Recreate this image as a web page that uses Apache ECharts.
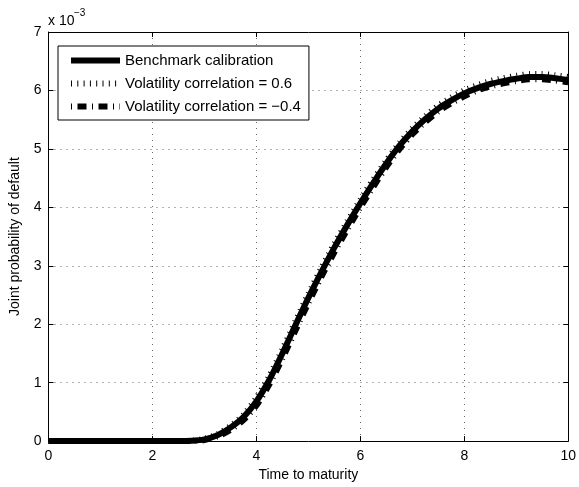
<!DOCTYPE html>
<html>
<head>
<meta charset="utf-8">
<script src="https://cdn.jsdelivr.net/npm/echarts@6/dist/echarts.min.js"></script>
<style>
html,body{margin:0;padding:0;background:#fff;}
#c{width:579px;height:487px;}
</style>
</head>
<body>
<div id="c"></div>
<script>
// time to maturity (years)
var xs        = [0,0.5,1,1.5,2,2.5,2.75,3,3.25,3.5,3.75,4,4.25,4.5,4.75,5,5.25,5.5,5.75,6,6.25,6.5,6.75,7,7.25,7.5,7.75,8,8.25,8.5,8.75,9,9.25,9.5,9.75,10];
// joint probability of default (x 1e-3)
var benchmark = [0,0,0,0,0,0,0.005,0.03,0.10,0.23,0.41,0.68,1.05,1.50,1.98,2.45,2.89,3.31,3.70,4.07,4.42,4.75,5.05,5.30,5.51,5.69,5.83,5.95,6.04,6.11,6.16,6.20,6.23,6.23,6.21,6.18];
var corrPos   = [0,0,0,0,0,0,0.007,0.04,0.12,0.26,0.45,0.74,1.12,1.57,2.05,2.52,2.96,3.38,3.76,4.13,4.48,4.80,5.10,5.35,5.56,5.74,5.88,6.00,6.09,6.16,6.21,6.25,6.28,6.28,6.26,6.23];
var corrNeg   = [0,0,0,0,0,0,0.003,0.02,0.08,0.19,0.36,0.61,0.97,1.41,1.89,2.36,2.81,3.23,3.62,4.00,4.35,4.69,4.99,5.25,5.46,5.64,5.78,5.90,6.00,6.07,6.12,6.16,6.19,6.19,6.17,6.14];
var names = ['Benchmark calibration','Volatility correlation = 0.6','Volatility correlation = \u22120.4'];
var yTicks = [0,1,2,3,4,5,6,7];
var xTicks = [0,2,4,6,8,10];

function pairs(v){ return xs.map(function(x,i){ return [x, v[i]]; }); }

var font = 'Liberation Sans, Arial, Helvetica, sans-serif';
var chart = echarts.init(document.getElementById('c'), null, {renderer:'canvas'});
var gridDash = {show:true, lineStyle:{color:'#666', width:1, type:[1,5]}};
var tickIn = {show:true, inside:true, length:5, lineStyle:{color:'#000', width:1}};
chart.setOption({
  animation:false,
  backgroundColor:'#fff',
  grid:{left:48.5, right:9.5, top:32, bottom:45, containLabel:false},
  legend:{
    orient:'vertical', left:58, top:46,
    data:names,
    itemWidth:49, itemHeight:14, itemGap:8,
    padding:[7,8,6,10],
    backgroundColor:'#fff', borderColor:'#000', borderWidth:1, borderRadius:0,
    textStyle:{fontFamily:font, fontSize:15, color:'#000'},
    lineStyle:{width:'inherit', type:'inherit', cap:'butt'},
    itemStyle:{opacity:0}
  },
  xAxis:[{
    type:'value', min:0, max:10, interval:2,
    name:'Time to maturity', nameLocation:'middle', nameGap:24,
    nameTextStyle:{fontFamily:font, fontSize:14, color:'#000'},
    axisLine:{show:true, onZero:false, lineStyle:{color:'#000', width:1}},
    axisTick:tickIn,
    axisLabel:{fontFamily:font, fontSize:14, color:'#000', margin:8},
    splitLine:gridDash
  },{
    type:'value', min:0, max:10, interval:2, position:'top',
    axisLine:{show:true, onZero:false, lineStyle:{color:'#000', width:1}},
    axisTick:tickIn, axisLabel:{show:false}, splitLine:{show:false}
  }],
  yAxis:[{
    type:'value', min:0, max:7, interval:1,
    name:'Joint probability of default', nameLocation:'middle', nameGap:26,
    nameTextStyle:{fontFamily:font, fontSize:14, color:'#000'},
    axisLine:{show:true, onZero:false, lineStyle:{color:'#000', width:1}},
    axisTick:tickIn,
    axisLabel:{fontFamily:font, fontSize:14, color:'#000', margin:7},
    splitLine:gridDash
  },{
    type:'value', min:0, max:7, interval:1, position:'right',
    axisLine:{show:true, onZero:false, lineStyle:{color:'#000', width:1}},
    axisTick:tickIn, axisLabel:{show:false}, splitLine:{show:false}
  }],
  graphic:[{
    type:'text', left:48, top:14,
    style:{text:'x 10', fontFamily:font, fontSize:14, fill:'#000'}
  },{
    type:'text', left:74, top:8,
    style:{text:'\u22123', fontFamily:font, fontSize:10, fill:'#000'}
  }],
  series:[{
    name:names[0], type:'line', data:pairs(benchmark), smooth:0.25, showSymbol:false, symbol:'none',
    lineStyle:{color:'#000', width:6, cap:'butt', join:'round'}, z:2
  },{
    name:names[1], type:'line', data:pairs(corrPos), smooth:0.25, showSymbol:false, symbol:'none',
    lineStyle:{color:'#000', width:6, type:[1,5.3], cap:'butt'}, z:3
  },{
    name:names[2], type:'line', data:pairs(corrNeg), smooth:0.25, showSymbol:false, symbol:'none',
    lineStyle:{color:'#000', width:6, type:[1,5.5,9,5.5], cap:'butt'}, z:4
  }]
});
</script>
</body>
</html>
